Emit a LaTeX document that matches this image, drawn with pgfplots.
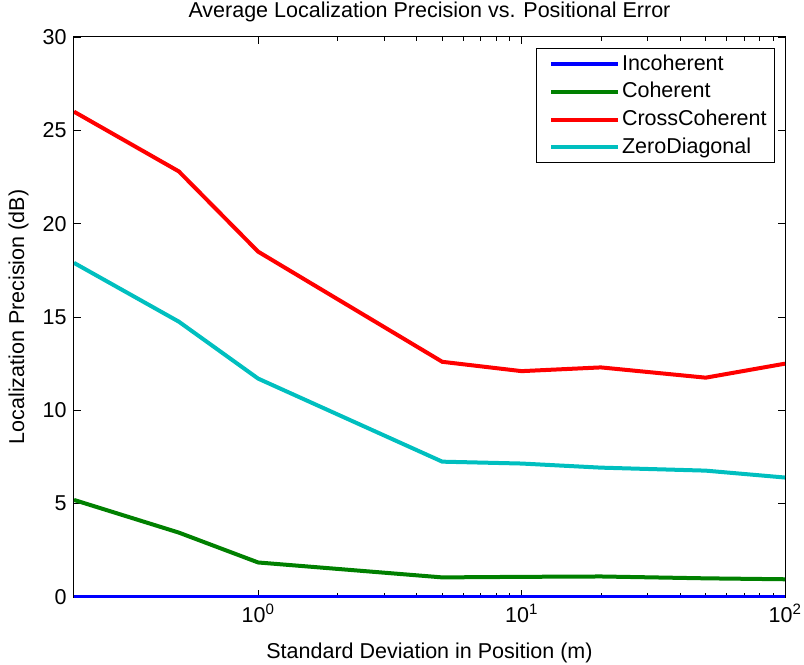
\documentclass[border=0pt]{standalone}
\usepackage{fontspec}
\setmainfont{Liberation Sans}
\usepackage{pgfplots}
\pgfplotsset{compat=1.18}

\definecolor{mblue}{rgb}{0,0,1}
\definecolor{mgreen}{rgb}{0,0.5,0}
\definecolor{mred}{rgb}{1,0,0}
\definecolor{mcyan}{rgb}{0,0.75,0.75}

\begin{document}
\fontsize{21.5}{25}\selectfont
\begin{tikzpicture}
\begin{semilogxaxis}[
    width=711pt, height=560pt, scale only axis,
    xmin=0.2, xmax=100, ymin=0, ymax=30,
    ytick={0,5,10,15,20,25,30},
    xtick={1,10,100},
    xticklabels={10\textsuperscript{0},10\textsuperscript{1},10\textsuperscript{2}},
    /pgf/number format/assume math mode=true,
    tick align=inside,
    major tick length=7pt, minor tick length=4pt,
    every tick/.style={black, line width=0.6pt},
    axis line style={line width=1pt},
    title={Average Localization Precision vs. Positional Error},
    xlabel={Standard Deviation in Position (m)},
    ylabel={Localization Precision (dB)},
    every axis title/.style={at={(axis description cs:0.5,1.045)}, anchor=center},
    every axis x label/.style={at={(axis description cs:0.5,-0.1)}, anchor=center},
    every axis y label/.style={at={(axis description cs:-0.078,0.5)}, rotate=90, anchor=center},
    legend cell align=left,
    legend style={at={(0.986,0.98)}, anchor=north east, draw=black, line width=0.8pt,
        inner xsep=6pt, inner ysep=4pt, row sep=5pt,
        /tikz/every even column/.append style={column sep=0pt}},
    legend image code/.code={\path (0pt,0pt); \draw[#1] (7pt,0pt) -- (74pt,0pt);},
]
\addplot[mblue, line width=4pt] coordinates {
    (0.2,0) (0.5,0) (1,0) (5,0) (10,0) (20,0) (50,0) (100,0)};
\addplot[mgreen, line width=4pt] coordinates {
    (0.2,5.2) (0.5,3.45) (1,1.85) (5,1.05) (10,1.08) (20,1.1) (50,1.0) (100,0.95)};
\addplot[mred, line width=4pt] coordinates {
    (0.2,26.0) (0.5,22.8) (1,18.5) (5,12.6) (10,12.1) (20,12.3) (50,11.75) (100,12.5)};
\addplot[mcyan, line width=4pt] coordinates {
    (0.2,17.9) (0.5,14.75) (1,11.7) (5,7.25) (10,7.15) (20,6.93) (50,6.77) (100,6.4)};
\legend{Incoherent, Coherent, CrossCoherent, ZeroDiagonal}
\end{semilogxaxis}
\pgfresetboundingbox
\path[use as bounding box] ([xshift=-74pt,yshift=-67pt]current axis.south west)
    rectangle ([xshift=19pt,yshift=37pt]current axis.north east);
\end{tikzpicture}
\end{document}
